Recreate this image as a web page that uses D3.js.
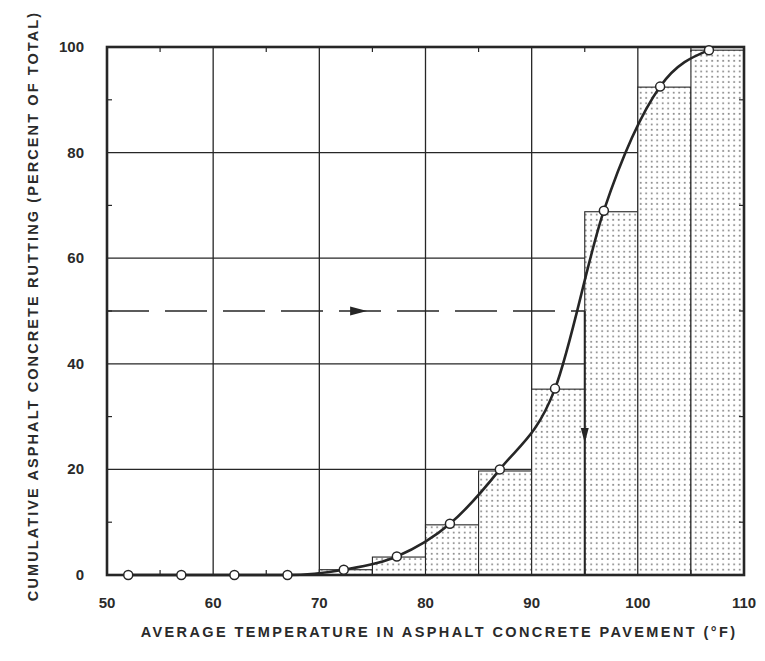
<!DOCTYPE html>
<html lang="en">
<head>
<meta charset="UTF-8">
<title>Cumulative rutting vs pavement temperature</title>
<script src="https://cdn.jsdelivr.net/npm/d3@7"></script>
<style>
  body { margin: 0; background: #fff; }
  text { font-family: "Liberation Sans", Arial, sans-serif; font-weight: bold; fill: #2a2a2a; }
</style>
</head>
<body>
<script>
// histogram bins (deg F) and cumulative rutting (% of total)
const binLo = [70, 75, 80, 85, 90, 95, 100, 105];
const binHi = [75, 80, 85, 90, 95, 100, 105, 110];
const binPct = [1, 3.4, 9.5, 19.7, 35.2, 68.8, 92.4, 99.4];

// plotted points on the smooth curve
const ptTemp = [52, 57, 62, 67, 72.3, 77.3, 82.3, 87, 92.2, 96.8, 102.1, 106.7];
const ptPct = [0, 0, 0, 0, 1, 3.5, 9.7, 20, 35.3, 69, 92.5, 99.4];

const xTicks = [50, 60, 70, 80, 90, 100, 110];
const yTicks = [0, 20, 40, 60, 80, 100];
const xMinor = [55, 65, 75, 85, 95, 105];
const yMinor = [10, 30, 50, 70, 90];

// 50 percent reading -> 95 F
const readPct = 50;
const readTemp = 95;
const arrowTemp = 74.5;
const arrowPct = 25;

let width = 765;
let height = 661;
let m = { left: 107, right: 21, top: 47, bottom: 86 };
const ink = "#262626";

let svg = d3.select("body").append("svg")
  .attr("width", width)
  .attr("height", height);

let x = d3.scaleLinear().domain([50, 110]).range([m.left, width - m.right]);
let y = d3.scaleLinear().domain([0, 100]).range([height - m.bottom, m.top]);

// dotted fill
let pat = svg.append("defs").append("pattern")
  .attr("id", "dots")
  .attr("patternUnits", "userSpaceOnUse")
  .attr("width", 5.5).attr("height", 5.3);
pat.append("rect").attr("width", 5.5).attr("height", 5.3).attr("fill", "#fff");
pat.append("circle").attr("cx", 2.7).attr("cy", 2.6).attr("r", 1).attr("fill", "#8a8a8a");

// grid
svg.append("g").selectAll("line").data(xTicks.slice(1, -1)).enter().append("line")
  .attr("x1", d => x(d)).attr("x2", d => x(d))
  .attr("y1", y(0)).attr("y2", y(100))
  .attr("stroke", ink).attr("stroke-width", 1.3);
svg.append("g").selectAll("line").data(yTicks.slice(1, -1)).enter().append("line")
  .attr("x1", x(50)).attr("x2", x(110))
  .attr("y1", d => y(d)).attr("y2", d => y(d))
  .attr("stroke", ink).attr("stroke-width", 1.3);

// bars
svg.append("g").selectAll("rect").data(binPct).enter().append("rect")
  .attr("x", (d, i) => x(binLo[i]))
  .attr("width", (d, i) => x(binHi[i]) - x(binLo[i]))
  .attr("y", d => y(d))
  .attr("height", d => y(0) - y(d))
  .attr("fill", "url(#dots)")
  .attr("stroke", ink).attr("stroke-width", 1.1);

// minor ticks, inside the frame
let mt = svg.append("g").attr("stroke", ink).attr("stroke-width", 1.2);
xMinor.forEach(d => {
  mt.append("line").attr("x1", x(d)).attr("x2", x(d)).attr("y1", y(100)).attr("y2", y(100) + 5);
  mt.append("line").attr("x1", x(d)).attr("x2", x(d)).attr("y1", y(0)).attr("y2", y(0) - 5);
});
yMinor.forEach(d => {
  mt.append("line").attr("x1", x(50)).attr("x2", x(50) + 5).attr("y1", y(d)).attr("y2", y(d));
  mt.append("line").attr("x1", x(110)).attr("x2", x(110) - 5).attr("y1", y(d)).attr("y2", y(d));
});

// reading lines
svg.append("line")
  .attr("x1", x(50)).attr("x2", x(readTemp))
  .attr("y1", y(readPct)).attr("y2", y(readPct))
  .attr("stroke", ink).attr("stroke-width", 1.4)
  .attr("stroke-dasharray", "42,16");
svg.append("line")
  .attr("x1", x(readTemp)).attr("x2", x(readTemp))
  .attr("y1", y(readPct)).attr("y2", y(0))
  .attr("stroke", ink).attr("stroke-width", 2);

let ax = x(arrowTemp), ay = y(readPct);
svg.append("path")
  .attr("d", `M${ax},${ay} L${ax - 17},${ay - 4.5} L${ax - 17},${ay + 4.5} Z`)
  .attr("fill", ink);
let bx = x(readTemp), by = y(arrowPct);
svg.append("path")
  .attr("d", `M${bx},${by} L${bx - 4},${by - 15} L${bx + 4},${by - 15} Z`)
  .attr("fill", ink);

// curve
let pts = ptTemp.map((t, i) => [t, ptPct[i]]);
let line = d3.line().x(d => x(d[0])).y(d => y(d[1])).curve(d3.curveMonotoneX);
svg.append("path")
  .datum(pts)
  .attr("d", line)
  .attr("fill", "none")
  .attr("stroke", ink).attr("stroke-width", 2.6);

// frame
svg.append("rect")
  .attr("x", x(50)).attr("y", y(100))
  .attr("width", x(110) - x(50)).attr("height", y(0) - y(100))
  .attr("fill", "none").attr("stroke", ink).attr("stroke-width", 2.6);

svg.append("g").selectAll("circle").data(pts).enter().append("circle")
  .attr("cx", d => x(d[0])).attr("cy", d => y(d[1]))
  .attr("r", 4.5)
  .attr("fill", "#fff").attr("stroke", ink).attr("stroke-width", 1.5);

// tick labels
svg.append("g").selectAll("text").data(xTicks).enter().append("text")
  .attr("x", d => x(d)).attr("y", y(0) + 33)
  .attr("text-anchor", "middle")
  .style("font-size", "15px")
  .text(d => d);
svg.append("g").selectAll("text").data(yTicks).enter().append("text")
  .attr("x", x(50) - 23).attr("y", d => y(d) + 5)
  .attr("text-anchor", "end")
  .style("font-size", "15px")
  .text(d => d);

// axis titles
svg.append("text")
  .attr("x", 439).attr("y", 637)
  .attr("text-anchor", "middle")
  .style("font-size", "14.5px").style("letter-spacing", "2.4px")
  .text("AVERAGE TEMPERATURE IN ASPHALT CONCRETE PAVEMENT (°F)");
svg.append("text")
  .attr("transform", "translate(38,306) rotate(-90)")
  .attr("text-anchor", "middle")
  .style("font-size", "14.5px").style("letter-spacing", "2.1px")
  .text("CUMULATIVE ASPHALT CONCRETE RUTTING (PERCENT OF TOTAL)");
</script>
</body>
</html>
